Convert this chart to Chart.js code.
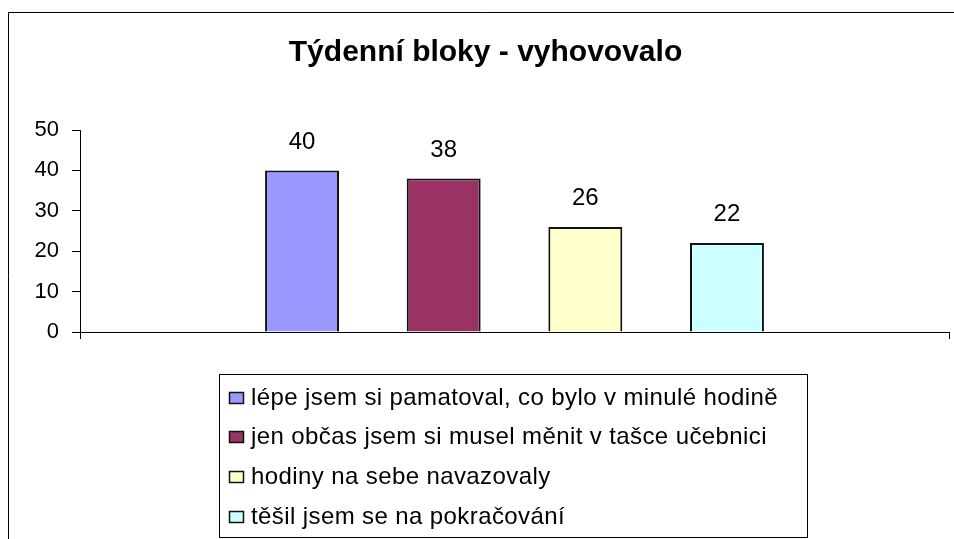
<!DOCTYPE html>
<html>
<head>
<meta charset="utf-8">
<script src="https://cdn.jsdelivr.net/npm/chart.js@4/dist/chart.umd.min.js"></script>
<style>
  html, body { margin: 0; padding: 0; background: #fff; }
  #wrap { width: 954px; height: 539px; position: relative; }
</style>
</head>
<body>
<div id="wrap"><canvas id="c" width="954" height="539"></canvas></div>
<script>
const chartTitle = 'Týdenní bloky - vyhovovalo';
const categories = [''];
const seriesNames = [
  'lépe jsem si pamatoval, co bylo v minulé hodině',
  'jen občas jsem si musel měnit v tašce učebnici',
  'hodiny na sebe navazovaly',
  'těšil jsem se na pokračování'
];
const seriesValues = [40, 38, 26, 22];
const seriesColors = ['#9999FF', '#993366', '#FFFFCC', '#CCFFFF'];
const yMin = 0, yMax = 50, yStep = 10;

const FONT = "'Liberation Sans', Arial, Helvetica, sans-serif";

const datasets = seriesNames.map((name, i) => ({
  label: name,
  data: [seriesValues[i]],
  backgroundColor: seriesColors[i],
  borderColor: '#111',
  borderWidth: 2,
  barPercentage: 0.522,
  categoryPercentage: 0.652
}));

const decorPlugin = {
  id: 'decor',
  afterDraw(chart) {
    const ctx = chart.ctx;
    ctx.save();
    // outer frame
    ctx.strokeStyle = '#000';
    ctx.lineWidth = 1;
    ctx.beginPath();
    ctx.moveTo(8.5, 539);
    ctx.lineTo(8.5, 12.5);
    ctx.lineTo(954, 12.5);
    ctx.stroke();

    // data labels
    ctx.fillStyle = '#000';
    ctx.font = '24px ' + FONT;
    ctx.textAlign = 'center';
    ctx.textBaseline = 'middle';
    chart.data.datasets.forEach((ds, i) => {
      const meta = chart.getDatasetMeta(i);
      meta.data.forEach((el, j) => {
        ctx.fillText(String(ds.data[j]), el.x, el.y - 28.5);
      });
    });

    // legend box
    ctx.strokeStyle = '#000';
    ctx.lineWidth = 1;
    ctx.strokeRect(219.5, 374.5, 588, 163);
    ctx.font = '24px ' + FONT;
    ctx.textAlign = 'left';
    try { ctx.letterSpacing = '0.4px'; } catch (e) {}
    chart.data.datasets.forEach((ds, i) => {
      const cy = 397 + i * 39.8;
      const top = Math.round(cy - 5.5) + 0.5;
      ctx.fillStyle = ds.backgroundColor;
      ctx.fillRect(229.5, top, 14, 11);
      ctx.strokeStyle = '#111';
      ctx.lineWidth = 1.5;
      ctx.strokeRect(229.5, top, 14, 11);
      ctx.fillStyle = '#000';
      ctx.fillText(ds.label, 251, cy + 1);
    });
    ctx.restore();
  }
};

new Chart(document.getElementById('c'), {
  type: 'bar',
  data: { labels: categories, datasets },
  plugins: [decorPlugin],
  options: {
    responsive: false,
    animation: false,
    devicePixelRatio: 1,
    layout: { padding: { left: 22, right: 5, top: 0, bottom: 0 } },
    plugins: {
      legend: { display: false },
      tooltip: { enabled: false },
      title: {
        display: true,
        text: chartTitle,
        color: '#000',
        font: { family: FONT, size: 30, weight: 'bold' },
        padding: { top: 35, bottom: 59 }
      }
    },
    scales: {
      x: {
        offset: true,
        grid: { display: true, drawOnChartArea: false, drawTicks: true, tickLength: 7, color: '#000', offset: true },
        border: { display: true, color: '#000', width: 1 },
        ticks: { display: false },
        afterFit(scale) { scale.height = 207; }
      },
      y: {
        min: yMin, max: yMax,
        grid: { display: true, drawOnChartArea: false, drawTicks: true, tickLength: 8, color: '#000' },
        border: { display: true, color: '#000', width: 1 },
        ticks: { stepSize: yStep, padding: 13, color: '#000', font: { family: FONT, size: 22 } },
        afterFit(scale) { scale.width = 58; }
      }
    }
  }
});
</script>
</body>
</html>
